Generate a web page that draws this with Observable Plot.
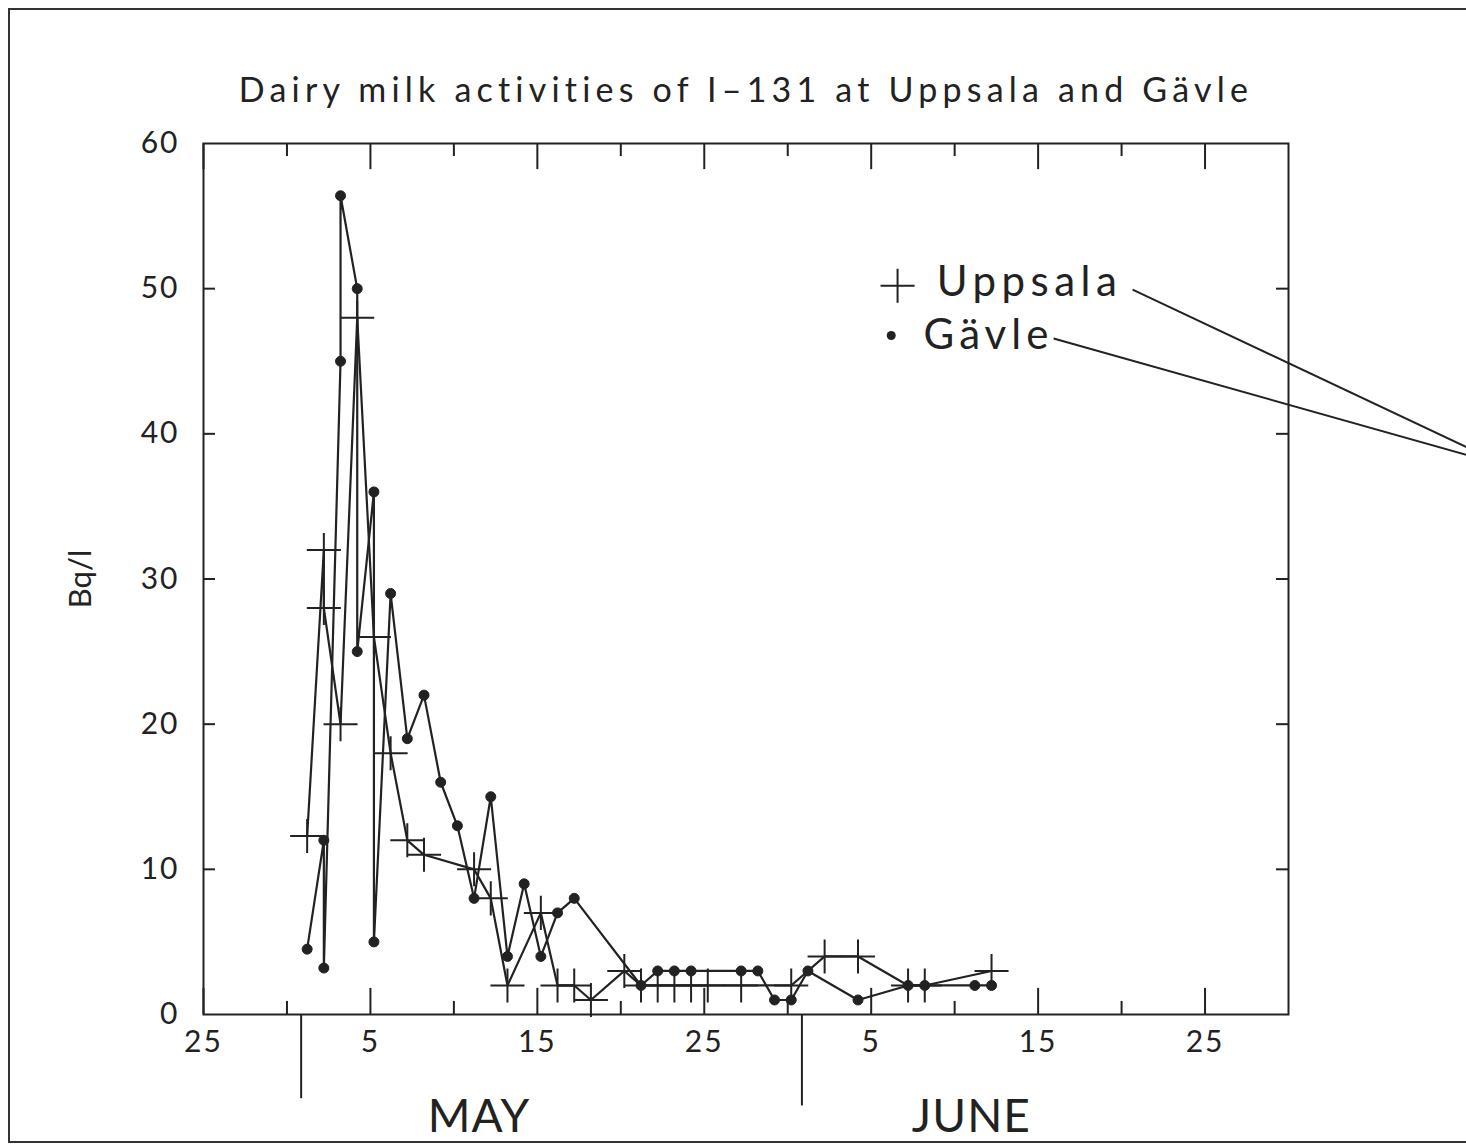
<!DOCTYPE html>
<html>
<head>
<meta charset="utf-8">
<script src="https://cdn.jsdelivr.net/npm/d3@7"></script>
<script src="https://cdn.jsdelivr.net/npm/@observablehq/plot@0.6"></script>
<style>
  html, body { margin: 0; padding: 0; background: #fff; overflow: hidden; }
  #border { position: absolute; left: 8px; top: 8px; width: 1530px; height: 1135px;
            border: 2px solid #333; box-sizing: border-box; }
  #chart { position: absolute; left: 0; top: 0; }
</style>
</head>
<body>
<div id="border"></div>
<div id="chart"></div>
<script>
// Day index on the time axis: May d -> d, June d -> 30 + d (25 April -> -5)
const gavleDay = [1, 2, 2, 3, 3, 4, 4, 5, 5, 6, 7, 8, 9, 10, 11, 12, 13, 14, 15, 16, 17,
                  21, 22, 23, 24, 27, 28, 29, 30, 31, 34, 37, 38, 41, 42];
const gavleBq  = [4.5, 12, 3.2, 45, 56.4, 50, 25, 36, 5, 29, 19, 22, 16, 13, 8, 15, 4, 9, 4, 7, 8,
                  2, 3, 3, 3, 3, 3, 1, 1, 3, 1, 2, 2, 2, 2];

const uppsalaDay = [1, 2, 2, 3, 4, 5, 6, 7, 8, 11, 12, 13, 15, 16, 17, 18,
                    20, 21, 22, 23, 24, 25, 27, 30, 32, 34, 37, 38, 42];
const uppsalaBq  = [12.3, 32, 28, 20, 48, 26, 18, 12, 11, 10, 8, 2, 7, 2, 2, 1,
                    3, 2, 2, 2, 2, 2, 2, 2, 4, 4, 2, 2, 3];

const majorTickDays = [-5, 5, 15, 25, 35, 45, 55];
const minorTickDays = [0, 10, 20, 30, 40, 50];
const xTickLabels = ["25", "5", "15", "25", "5", "15", "25"];
const yTickValues = [0, 10, 20, 30, 40, 50, 60];
const yInnerTicks = [10, 20, 30, 40, 50];
const months = ["MAY", "JUNE"];
const seriesNames = ["Uppsala", "Gävle"];
const titleText = "Dairy milk activities of I\u2013131 at Uppsala and Gävle";
const yLabelText = "Bq/l";

const uppsala = uppsalaDay.map((d, i) => ({day: d, bq: uppsalaBq[i]}));
const gavle = gavleDay.map((d, i) => ({day: d, bq: gavleBq[i]}));

const ink = "#222";
const font = "Lato, 'DejaVu Sans', sans-serif";

const chart = Plot.plot({
  width: 1466,
  height: 1147,
  marginLeft: 203,
  marginRight: 178,
  marginTop: 143,
  marginBottom: 133,
  style: {fontFamily: font, background: "transparent", color: ink},
  x: {domain: [-5, 60]},
  y: {domain: [0, 60]},
  marks: [
    Plot.frame({stroke: ink, strokeWidth: 2}),
    // inward ticks, bottom and top
    Plot.ruleX(majorTickDays, {y1: 0, y2: 1.8, stroke: ink, strokeWidth: 2}),
    Plot.ruleX(minorTickDays, {y1: 0, y2: 0.9, stroke: ink, strokeWidth: 2}),
    Plot.ruleX(majorTickDays, {y1: 60, y2: 58.2, stroke: ink, strokeWidth: 2}),
    Plot.ruleX(minorTickDays, {y1: 60, y2: 59.1, stroke: ink, strokeWidth: 2}),
    // inward ticks, left and right
    Plot.ruleY(yInnerTicks, {x1: -5, x2: -4.28, stroke: ink, strokeWidth: 2}),
    Plot.ruleY(yInnerTicks, {x1: 60, x2: 59.28, stroke: ink, strokeWidth: 2}),
    Plot.axisX(majorTickDays, {
      anchor: "bottom", tickSize: 0, tickPadding: 16, fontSize: 30, label: null,
      tickFormat: d => xTickLabels[majorTickDays.indexOf(d)]
    }),
    Plot.axisY(yTickValues, {
      anchor: "left", tickSize: 0, tickPadding: 24, fontSize: 30, label: null
    }),
    // month separators and names
    Plot.ruleX([0.85], {y1: 0, y2: -5.8, stroke: ink, strokeWidth: 2}),
    Plot.ruleX([30.85], {y1: 0, y2: -6.3, stroke: ink, strokeWidth: 2}),
    Plot.text(months, {
      x: d => d === "MAY" ? 11.5 : 41, frameAnchor: "bottom", dy: 103,
      lineAnchor: "middle", text: d => d, fontSize: 46, fill: ink
    }),
    // series
    Plot.line(uppsala, {x: "day", y: "bq", stroke: ink, strokeWidth: 2.2, dx: 3.5}),
    Plot.dot(uppsala, {x: "day", y: "bq", symbol: "plus", r: 11, stroke: ink, strokeWidth: 2, dx: 3.5}),
    Plot.line(gavle, {x: "day", y: "bq", stroke: ink, strokeWidth: 2.2, dx: 3.5}),
    Plot.dot(gavle, {x: "day", y: "bq", r: 5, fill: ink, stroke: ink, strokeWidth: 1, dx: 3.5}),
    // legend with leader lines
    Plot.dot([seriesNames[0]], {x: 36.58, y: 50.2, symbol: "plus", r: 11, stroke: ink, strokeWidth: 2}),
    Plot.dot([seriesNames[1]], {x: 36.2, y: 46.77, r: 4.5, fill: ink}),
    Plot.text(seriesNames, {
      x: d => d === "Uppsala" ? 38.92 : 38.14,
      y: d => d === "Uppsala" ? 50.42 : 46.74,
      text: d => d, textAnchor: "start", lineAnchor: "middle", fontSize: 42, fill: ink
    }),
    Plot.link(seriesNames, {
      x1: d => d === "Uppsala" ? 50.66 : 45.93,
      y1: d => d === "Uppsala" ? 49.94 : 46.57,
      x2: 73.13, y2: 37.75, stroke: ink, strokeWidth: 2
    }),
    // title and y label
    Plot.text([titleText], {frameAnchor: "top", lineAnchor: "middle", dy: -52, fontSize: 34, fill: ink}),
    Plot.text([yLabelText], {frameAnchor: "left", textAnchor: "middle", lineAnchor: "middle",
      dx: -122, rotate: -90, fontSize: 31, fill: ink})
  ]
});

const svg = d3.select(chart);
const spacing = new Map([[titleText, 5.2], [seriesNames[0], 5.5], [seriesNames[1], 5], ["MAY", 1], ["JUNE", 1]]);
svg.selectAll("text").each(function () {
  const t = this.textContent;
  if (spacing.has(t)) {
    d3.select(this).attr("letter-spacing", spacing.get(t)).style("letter-spacing", spacing.get(t) + "px");
  } else if (xTickLabels.includes(t) || yTickValues.map(String).includes(t)) {
    d3.select(this).style("letter-spacing", "2px");
  }
});
document.getElementById("chart").append(chart);
</script>
</body>
</html>
